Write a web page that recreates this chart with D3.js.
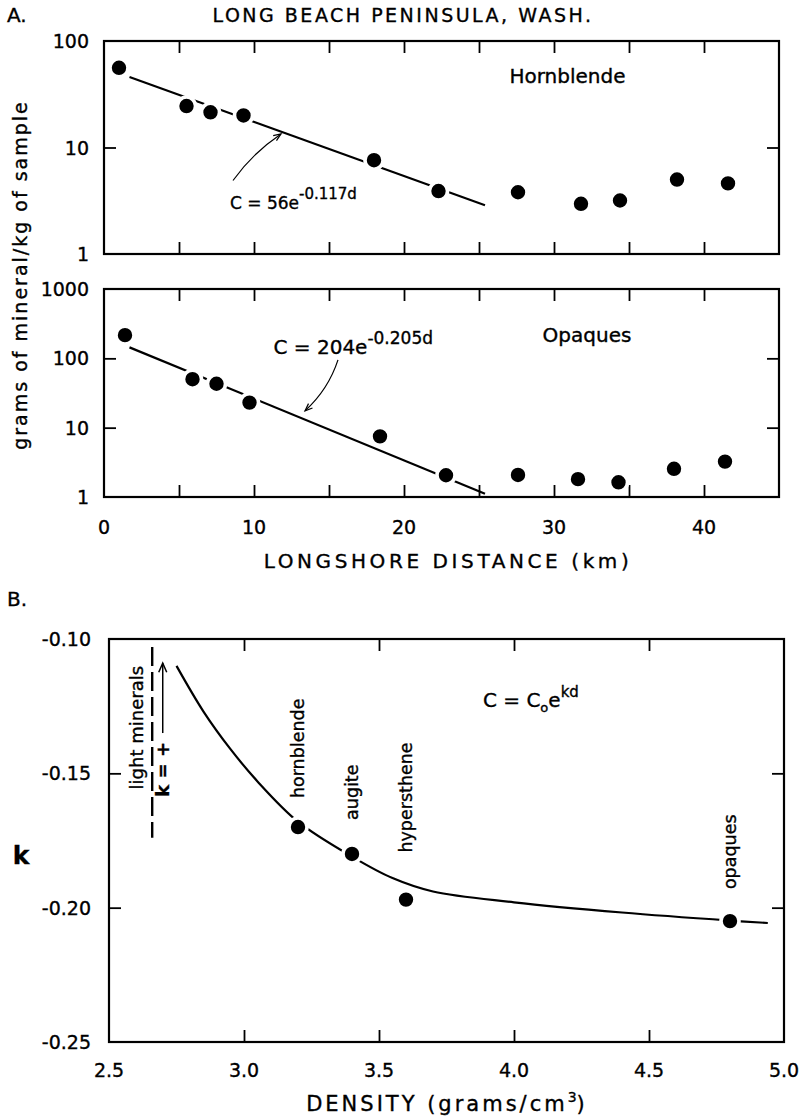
<!DOCTYPE html>
<html>
<head>
<meta charset="utf-8">
<script src="https://cdn.jsdelivr.net/npm/d3@7"></script>
<style>
  body { margin: 0; background: #fff; }
  svg { display: block; }
  text { font-family: "DejaVu Sans", sans-serif; fill: #000; stroke: #000; stroke-width: 0.35px; }
</style>
</head>
<body>
<svg id="chart" width="804" height="1120"></svg>
<script>
// ---- Panel A: concentration along the peninsula ----
const distHorn = [1.0, 5.5, 7.1, 9.3, 18.0, 22.3, 27.6, 31.8, 34.4, 38.2, 41.6];
const concHorn = [56, 24.5, 21.4, 20.0, 7.6, 3.9, 3.8, 2.96, 3.18, 5.0, 4.6];
const distOpq  = [1.4, 5.9, 7.5, 9.7, 18.4, 22.8, 27.6, 31.6, 34.3, 38.0, 41.4];
const concOpq  = [216, 50, 43, 23, 7.5, 2.06, 2.08, 1.81, 1.63, 2.55, 3.24];

// exponential fits C = C0 * e^(k d), drawn over the fitted distance range
const fitHorn  = [56, -0.117];
const fitOpq   = [204, -0.205];
const fitRange = [1.7, 25.4];

const kmTicks   = [0, 5, 10, 15, 20, 25, 30, 35, 40, 45];
const kmLabels  = [0, 10, 20, 30, 40];
const hornTicks = [1, 10, 100];
const opqTicks  = [1, 10, 100, 1000];

// ---- Panel B: decay coefficient versus mineral density ----
const minerals  = ["hornblende", "augite", "hypersthene", "opaques"];
const densPts   = [3.2, 3.4, 3.6, 4.8];
const kPts      = [-0.170, -0.180, -0.197, -0.205];
const densCurve = [2.75, 2.85, 2.95, 3.05, 3.2, 3.4, 3.55, 3.7, 4.0, 4.4, 4.8, 4.94];
const kCurve    = [-0.110, -0.127, -0.141, -0.153, -0.168, -0.181, -0.189, -0.194, -0.198, -0.2018, -0.2048, -0.2057];
const densTicks = [2.5, 3.0, 3.5, 4.0, 4.5, 5.0];
const kTicks    = [-0.25, -0.20, -0.15, -0.10];

const svg = d3.select("#chart");

// scales
const xA  = d3.scaleLinear().domain([0, 45]).range([104, 779]);
const yH  = d3.scaleLog().domain([1, 100]).range([254, 41]);
const yO  = d3.scaleLog().domain([1, 1000]).range([497, 289]);
const xB  = d3.scaleLinear().domain([2.5, 5.0]).range([109, 784]);
const yB  = d3.scaleLinear().domain([-0.25, -0.10]).range([1042, 639]);

const TICK = 12;

// inward ticks on all four sides plus a heavy frame
function framed(x, y, xt, yt) {
  const g = svg.append("g");
  const [x0, x1] = x.range();
  const [y0, y1] = y.range();
  const inner = v => v !== x.domain()[0] && v !== x.domain()[1];
  const innerY = v => v !== y.domain()[0] && v !== y.domain()[1];
  const xs = xt.filter(inner), ys = yt.filter(innerY);
  g.append("g").attr("transform", `translate(0,${y0})`)
    .call(d3.axisBottom(x).tickValues(xs).tickSizeInner(-TICK).tickSizeOuter(0).tickFormat(""));
  g.append("g").attr("transform", `translate(0,${y1})`)
    .call(d3.axisTop(x).tickValues(xs).tickSizeInner(-TICK).tickSizeOuter(0).tickFormat(""));
  g.append("g").attr("transform", `translate(${x0},0)`)
    .call(d3.axisLeft(y).tickValues(ys).tickSizeInner(-TICK).tickSizeOuter(0).tickFormat(""));
  g.append("g").attr("transform", `translate(${x1},0)`)
    .call(d3.axisRight(y).tickValues(ys).tickSizeInner(-TICK).tickSizeOuter(0).tickFormat(""));
  g.selectAll(".domain").remove();
  g.selectAll(".tick line").attr("stroke", "#000").attr("stroke-width", 1.8);
  g.append("rect")
    .attr("x", x0).attr("y", y1).attr("width", x1 - x0).attr("height", y0 - y1)
    .attr("fill", "none").attr("stroke", "#000").attr("stroke-width", 2.2);
}

function yLabels(y, vals, fmt, xRight) {
  svg.append("g").selectAll("text").data(vals).join("text")
    .attr("x", xRight).attr("y", d => y(d))
    .attr("text-anchor", "end").attr("dominant-baseline", "central")
    .attr("font-size", 19).text(fmt);
}

function dots(x, y, xs, ys) {
  svg.append("g").selectAll("circle").data(xs).join("circle")
    .attr("cx", d => x(d)).attr("cy", (d, i) => y(ys[i]))
    .attr("r", 9).attr("fill", "#000")
    .attr("stroke", "#fff").attr("stroke-width", 3.6);
}

function fitLine(y, fit) {
  const pts = fitRange.map(d => [xA(d), y(fit[0] * Math.exp(fit[1] * d))]);
  svg.append("path").attr("d", d3.line()(pts))
    .attr("fill", "none").attr("stroke", "#000").attr("stroke-width", 2.2);
}

// curved pointer from a label to a line
function pointer(p0, p1, bend) {
  const mx = (p0[0] + p1[0]) / 2, my = (p0[1] + p1[1]) / 2;
  const dx = p1[0] - p0[0], dy = p1[1] - p0[1];
  const len = Math.hypot(dx, dy);
  const cx = mx - dy / len * bend, cy = my + dx / len * bend;
  svg.append("path").attr("d", `M${p0[0]},${p0[1]} Q${cx},${cy} ${p1[0]},${p1[1]}`)
    .attr("fill", "none").attr("stroke", "#000").attr("stroke-width", 1.2);
  const ang = Math.atan2(p1[1] - cy, p1[0] - cx);
  const a = 8, w = 0.38;
  const head = [
    [p1[0] - a * Math.cos(ang - w), p1[1] - a * Math.sin(ang - w)],
    [p1[0], p1[1]],
    [p1[0] - a * Math.cos(ang + w), p1[1] - a * Math.sin(ang + w)]
  ];
  svg.append("path").attr("d", d3.line()(head))
    .attr("fill", "none").attr("stroke", "#000").attr("stroke-width", 1.2);
}

// ---------- Panel A ----------
svg.append("text").attr("x", 7).attr("y", 22).attr("font-size", 20).text("A.");
svg.append("text").attr("x", 403).attr("y", 22).attr("text-anchor", "middle")
  .attr("font-size", 19).attr("letter-spacing", 2.5).text("LONG BEACH PENINSULA, WASH.");

framed(xA, yH, kmTicks, hornTicks);
framed(xA, yO, kmTicks, opqTicks);

yLabels(yH, hornTicks, d => d3.format("d")(d), 89);
yLabels(yO, opqTicks, d => d3.format("d")(d), 89);

svg.append("g").selectAll("text").data(kmLabels).join("text")
  .attr("x", d => xA(d)).attr("y", 527)
  .attr("text-anchor", "middle").attr("dominant-baseline", "central")
  .attr("font-size", 19).text(d => d);

svg.append("text").attr("x", 448).attr("y", 568).attr("text-anchor", "middle")
  .attr("font-size", 20).attr("letter-spacing", 3.6).text("LONGSHORE DISTANCE (km)");

svg.append("text")
  .attr("transform", "translate(27,275) rotate(-90)")
  .attr("text-anchor", "middle").attr("font-size", 19).attr("letter-spacing", 2)
  .text("grams of mineral/kg of sample");

fitLine(yH, fitHorn);
fitLine(yO, fitOpq);
dots(xA, yH, distHorn, concHorn);
dots(xA, yO, distOpq, concOpq);

svg.append("text").attr("x", xA(30.9)).attr("y", yH(47)).attr("text-anchor", "middle")
  .attr("dominant-baseline", "central").attr("font-size", 20).text("Hornblende");
svg.append("text").attr("x", xA(32.2)).attr("y", yO(218)).attr("text-anchor", "middle")
  .attr("dominant-baseline", "central").attr("font-size", 20).text("Opaques");

// equation labels
const eqH = svg.append("text").attr("x", xA(8.4)).attr("y", yH(2.65)).attr("font-size", 17);
eqH.append("tspan").text("C = 56e");
eqH.append("tspan").attr("dy", -10).attr("font-size", 15).text("-0.117d");

const eqO = svg.append("text").attr("x", xA(11.3)).attr("y", yO(115)).attr("font-size", 20);
eqO.append("tspan").text("C = 204e");
eqO.append("tspan").attr("dy", -10).attr("font-size", 17).text("-0.205d");

pointer([xA(8.6), yH(4.9)], [xA(11.8), yH(13.4)], -6);
pointer([xA(15.6), yO(95)], [xA(13.4), yO(17.5)], -8);

// ---------- Panel B ----------
svg.append("text").attr("x", 7).attr("y", 606).attr("font-size", 20).text("B.");

framed(xB, yB, densTicks, kTicks);

yLabels(yB, kTicks, d => d3.format(".2f")(d).replace("−", "-"), 91);

svg.append("g").selectAll("text").data(densTicks).join("text")
  .attr("x", d => xB(d)).attr("y", 1070)
  .attr("text-anchor", "middle").attr("dominant-baseline", "central")
  .attr("font-size", 19).text(d => d3.format(".1f")(d));

const dens = svg.append("text").attr("x", 447).attr("y", 1111).attr("text-anchor", "middle")
  .attr("font-size", 21).attr("letter-spacing", 3);
dens.append("tspan").text("DENSITY (grams/cm");
dens.append("tspan").attr("dy", -9).attr("font-size", 14).attr("letter-spacing", 0).text("3");
dens.append("tspan").attr("dy", 9).text(")");

svg.append("text").attr("x", 21).attr("y", 855).attr("text-anchor", "middle")
  .attr("dominant-baseline", "central").attr("font-size", 25).attr("font-weight", "bold").text("k");

svg.append("path")
  .attr("d", d3.line().curve(d3.curveCatmullRom)(densCurve.map((d, i) => [xB(d), yB(kCurve[i])])))
  .attr("fill", "none").attr("stroke", "#000").attr("stroke-width", 2.2);

dots(xB, yB, densPts, kPts);

// rotated mineral names standing above each point
const nameGap = [29, 34, 47, 32];
svg.append("g").selectAll("text").data(minerals).join("text")
  .attr("transform", (d, i) => `translate(${xB(densPts[i]) + 6},${yB(kPts[i]) - nameGap[i]}) rotate(-90)`)
  .attr("font-size", 17.5).text(d => d);

// light-mineral note on the left edge
svg.append("line")
  .attr("x1", xB(2.66)).attr("x2", xB(2.66))
  .attr("y1", yB(-0.103)).attr("y2", yB(-0.174))
  .attr("stroke", "#000").attr("stroke-width", 2.4).attr("stroke-dasharray", "19,6");
svg.append("text")
  .attr("transform", `translate(${xB(2.604) + 6},${yB(-0.133)}) rotate(-90)`)
  .attr("text-anchor", "middle").attr("font-size", 18).text("light minerals");
svg.append("text")
  .attr("transform", `translate(${xB(2.70) + 6},${yB(-0.1485)}) rotate(-90)`)
  .attr("text-anchor", "middle").attr("font-size", 18).attr("font-weight", "bold").text("k = +");
svg.append("line")
  .attr("x1", xB(2.699)).attr("x2", xB(2.699))
  .attr("y1", yB(-0.135)).attr("y2", yB(-0.109))
  .attr("stroke", "#000").attr("stroke-width", 1.5);
svg.append("path")
  .attr("d", d3.line()([[xB(2.699) - 4, yB(-0.109) + 9], [xB(2.699), yB(-0.109)], [xB(2.699) + 4, yB(-0.109) + 9]]))
  .attr("fill", "none").attr("stroke", "#000").attr("stroke-width", 1.5);

// general relation
const rel = svg.append("text").attr("x", xB(3.885)).attr("y", yB(-0.1253)).attr("font-size", 20);
rel.append("tspan").text("C = C");
rel.append("tspan").attr("dy", 5).attr("font-size", 13).text("o");
rel.append("tspan").attr("dy", -5).text("e");
rel.append("tspan").attr("dy", -10).attr("font-size", 15).text("kd");
</script>
</body>
</html>
